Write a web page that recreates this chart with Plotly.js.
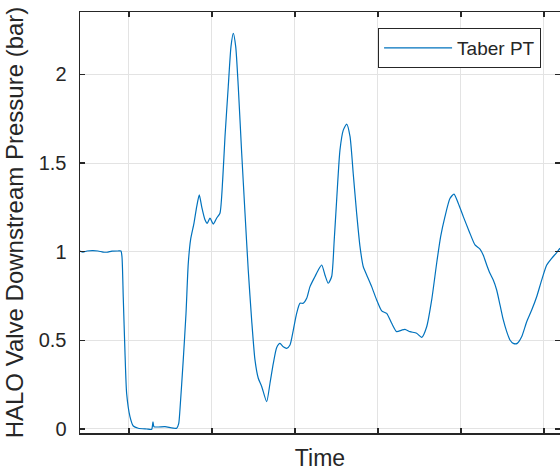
<!DOCTYPE html>
<html>
<head>
<meta charset="utf-8">
<script src="https://cdn.plot.ly/plotly-3.0.1.min.js"></script>
<style>html,body{margin:0;padding:0;background:#fff;}#chart{width:560px;height:471px;}</style>
</head>
<body>
<div id="chart"></div>
<script>
// Time (s, arbitrary origin) and pressure (bar)
const time = [4.10, 4.46, 4.94, 5.66, 6.27, 6.87, 7.35, 7.95, 8.67, 9.03,
  9.16, 9.31, 9.52, 9.72, 10.12, 10.52, 11.12, 12.13, 12.73, 12.89,
  13.01, 14.34, 15.75, 15.99, 16.14, 16.54, 16.87, 17.14, 17.43, 17.83,
  18.16, 18.47, 18.76, 19.16, 19.43, 19.76, 20.16, 20.57, 20.96, 21.29,
  21.57, 21.96, 22.29, 22.57, 22.86, 23.17, 23.58, 23.98, 24.37, 24.78,
  25.18, 25.58, 25.99, 26.59, 26.99, 27.39, 27.80, 28.19, 28.59, 29.00,
  29.40, 29.80, 30.20, 30.60, 31.00, 31.41, 31.81, 32.41, 32.81, 33.22,
  33.61, 34.01, 34.42, 34.73, 35.02, 35.42, 35.82, 36.23, 36.63, 37.02,
  37.43, 37.83, 38.23, 38.64, 39.24, 39.84, 40.45, 41.05, 41.65, 42.25,
  42.86, 43.25, 43.86, 44.66, 45.27, 45.87, 46.47, 47.07, 47.55, 48.07,
  48.67, 49.16, 49.67, 50.28, 51.00, 51.69, 52.29, 52.69, 53.10, 53.49,
  53.89, 54.30, 54.70, 55.10, 55.51, 55.90, 56.30, 56.78, 57.31, 57.92,
  58.52, 59.12, 59.72, 60.33, 60.93, 61.53, 61.93];
const taberPT = [1.003, 0.997, 1.004, 1.006, 1.004, 0.998, 0.997, 1.003, 1.004, 1.004,
  0.97, 0.746, 0.43, 0.20, 0.07, 0.017, 0.004, 0.0, -0.002, 0.04,
  0.013, 0.013, 0.004, 0.03, 0.107, 0.39, 0.65, 0.93, 1.07, 1.16,
  1.254, 1.32, 1.254, 1.18, 1.16, 1.19, 1.156, 1.19, 1.217, 1.405,
  1.65, 1.93, 2.157, 2.232, 2.157, 1.93, 1.555, 1.217, 0.897, 0.615,
  0.39, 0.286, 0.24, 0.154, 0.258, 0.37, 0.46, 0.483, 0.464, 0.455,
  0.474, 0.558, 0.652, 0.709, 0.709, 0.737, 0.803, 0.86, 0.897, 0.925,
  0.869, 0.822, 0.86, 1.066, 1.29, 1.573, 1.686, 1.72, 1.65, 1.44,
  1.217, 1.03, 0.915, 0.869, 0.803, 0.728, 0.666, 0.652, 0.596, 0.549,
  0.558, 0.562, 0.549, 0.54, 0.517, 0.577, 0.728, 0.935, 1.085, 1.198,
  1.30, 1.325, 1.273, 1.198, 1.113, 1.038, 1.015, 0.98, 0.925, 0.878,
  0.84, 0.784, 0.70, 0.615, 0.549, 0.502, 0.483, 0.483, 0.52, 0.605,
  0.671, 0.746, 0.84, 0.925, 0.963, 0.995, 1.02];
const xTicks = [10, 20, 30, 40, 50, 60];
const yTicks = [0, 0.5, 1, 1.5, 2];
const yTickLabels = ['0', '0.5', '1', '1.5', '2'];
const seriesName = 'Taber PT';

const ink = '#262626';
const trace = {
  x: time, y: taberPT, type: 'scatter', mode: 'lines', name: seriesName,
  line: {color: '#0072BD', width: 1.2, shape: 'spline', smoothing: 0.6}
};
const layout = {
  width: 560, height: 471,
  margin: {l: 80, r: 0, t: 12, b: 38, pad: 0},
  paper_bgcolor: '#ffffff', plot_bgcolor: '#ffffff',
  font: {family: '"Liberation Sans", Arial, sans-serif', color: ink, size: 20},
  showlegend: true,
  legend: {
    x: 0.621, y: 0.962, xanchor: 'left', yanchor: 'top',
    bgcolor: '#ffffff', bordercolor: ink, borderwidth: 1,
    font: {size: 19, color: ink}, itemwidth: 68
  },
  xaxis: {
    range: [4.10, 61.93], tickvals: xTicks, showticklabels: false,
    ticks: 'inside', ticklen: 5, tickwidth: 1.3, tickcolor: ink,
    showline: true, linecolor: ink, linewidth: 1.5, mirror: 'ticks',
    showgrid: true, gridcolor: '#e3e3e3', gridwidth: 1, zeroline: false,
    title: {text: 'Time', font: {size: 23, color: ink}, standoff: 16}
  },
  yaxis: {
    range: [-0.0226, 2.352], tickvals: yTicks, ticktext: yTickLabels,
    ticks: 'inside', ticklen: 5, tickwidth: 1.3, tickcolor: ink,
    showline: true, linecolor: ink, linewidth: 1.5, mirror: 'ticks',
    showgrid: true, gridcolor: '#e3e3e3', gridwidth: 1, zeroline: false,
    tickfont: {size: 20, color: ink}, ticklabelstandoff: 8,
    title: {text: 'HALO Valve Downstream Pressure (bar)', font: {size: 24, color: ink}, standoff: 8}
  }
};
Plotly.newPlot('chart', [trace], layout, {displayModeBar: false, staticPlot: true});
</script>
</body>
</html>
